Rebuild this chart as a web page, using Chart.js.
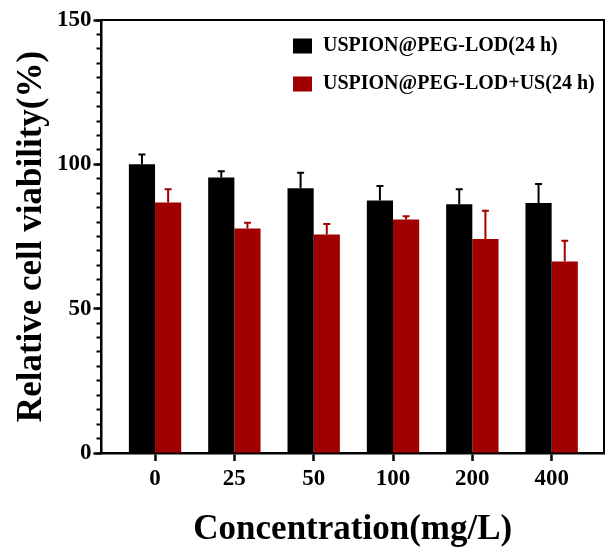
<!DOCTYPE html>
<html>
<head>
<meta charset="utf-8">
<script src="https://cdn.jsdelivr.net/npm/chart.js@4.4.1/dist/chart.umd.min.js"></script>
<style>
  html, body { margin: 0; padding: 0; background: #fff; }
  #wrap { width: 605px; height: 547px; }
</style>
</head>
<body>
<div id="wrap"><canvas id="viability" width="605" height="547"></canvas></div>
<script>
const concentrations = ['0', '25', '50', '100', '200', '400'];

const pegLod = [100, 95.4, 91.7, 87.5, 86.2, 86.6];
const pegLodErr = [3.4, 2.2, 5.4, 5.0, 5.2, 6.6];

const pegLodUs = [86.8, 77.8, 75.7, 80.9, 74.1, 66.3];
const pegLodUsErr = [4.6, 2.0, 3.6, 1.1, 9.8, 7.2];

const yTicks = [0, 50, 100, 150];

const seriesNames = ['USPION@PEG-LOD(24 h)', 'USPION@PEG-LOD+US(24 h)'];
const seriesColors = ['#000000', '#a10000'];
const seriesErrors = [pegLodErr, pegLodUsErr];

const serif = "'Liberation Serif', 'Times New Roman', serif";

function toPoints(values) {
    return values.map((v, i) => ({ x: i, y: v }));
}

// upper whiskers only, like the original figure
const errorBars = {
    id: 'errorBars',
    afterDatasetsDraw(chart) {
        const ctx = chart.ctx;
        const y = chart.scales.y;
        chart.data.datasets.forEach((ds, di) => {
            const meta = chart.getDatasetMeta(di);
            const errs = seriesErrors[di];
            meta.data.forEach((bar, i) => {
                const top = y.getPixelForValue(ds.data[i].y + errs[i]);
                ctx.save();
                ctx.strokeStyle = seriesColors[di];
                ctx.lineWidth = 2;
                ctx.beginPath();
                ctx.moveTo(bar.x, bar.y);
                ctx.lineTo(bar.x, top);
                ctx.moveTo(bar.x - 3.5, top);
                ctx.lineTo(bar.x + 3.5, top);
                ctx.stroke();
                ctx.restore();
            });
        });
    }
};

// frame top/right + legend inside the plot
const frameAndLegend = {
    id: 'frameAndLegend',
    afterDraw(chart) {
        const ctx = chart.ctx;
        const area = chart.chartArea;
        ctx.save();
        ctx.strokeStyle = '#000';
        ctx.lineWidth = 2;
        ctx.beginPath();
        ctx.moveTo(area.left, area.top);
        ctx.lineTo(area.right, area.top);
        ctx.lineTo(area.right, area.bottom);
        ctx.stroke();

        ctx.font = 'bold 20px ' + serif;
        ctx.textBaseline = 'middle';
        ctx.textAlign = 'left';
        chart.data.datasets.forEach((ds, i) => {
            const rowY = area.top + 26 + i * 38;
            ctx.fillStyle = ds.backgroundColor;
            ctx.fillRect(area.right - 311, rowY - 7.5, 19, 15);
            ctx.fillStyle = '#000';
            ctx.fillText(ds.label, area.right - 281, rowY);
        });
        ctx.restore();
    }
};

new Chart(document.getElementById('viability'), {
    type: 'bar',
    data: {
        datasets: [{
            label: seriesNames[0],
            data: toPoints(pegLod),
            backgroundColor: seriesColors[0],
            categoryPercentage: 0.66,
            barPercentage: 1
        }, {
            label: seriesNames[1],
            data: toPoints(pegLodUs),
            backgroundColor: seriesColors[1],
            categoryPercentage: 0.66,
            barPercentage: 1
        }]
    },
    options: {
        responsive: false,
        animation: false,
        layout: {
            padding: { top: 20, right: 1, left: 0, bottom: 0 }
        },
        scales: {
            x: {
                type: 'linear',
                offset: false,
                min: -0.675,
                max: 5.66,
                afterBuildTicks: (scale) => {
                    scale.ticks = concentrations.map((c, i) => ({ value: i }));
                },
                afterFit: (scale) => { scale.height = 94; },
                grid: { offset: false, drawOnChartArea: false, tickLength: 8, tickWidth: 2.5, tickColor: '#000' },
                border: { color: '#000', width: 2.5 },
                ticks: {
                    color: '#000',
                    padding: 4,
                    font: { family: serif, size: 23, weight: 'bold' },
                    callback: (v) => concentrations[v]
                },
                title: {
                    display: true,
                    text: 'Concentration(mg/L)',
                    color: '#000',
                    font: { family: serif, size: 35, weight: 'bold', lineHeight: 1 },
                    padding: { top: 0, bottom: 0 }
                }
            },
            y: {
                position: 'left',
                weight: 1,
                min: 0,
                max: 150,
                afterBuildTicks: (scale) => {
                    scale.ticks = yTicks.map(v => ({ value: v }));
                },
                afterFit: (scale) => { scale.width = 101.5; },
                grid: { drawOnChartArea: false, tickLength: 8, tickWidth: 2.5, tickColor: '#000' },
                border: { color: '#000', width: 2.5 },
                ticks: {
                    color: '#000',
                    padding: 2,
                    font: { family: serif, size: 23, weight: 'bold' }
                },
                title: {
                    display: true,
                    text: 'Relative cell viability(%)',
                    color: '#000',
                    font: { family: serif, size: 35, weight: 'bold', lineHeight: 1 },
                    padding: { top: 14, bottom: 0 }
                }
            },
            // minor ticks every 5
            yMinor: {
                position: 'left',
                weight: 0,
                min: 0,
                max: 150,
                afterFit: (scale) => { scale.width = 0; },
                ticks: { stepSize: 5, display: false },
                grid: { drawOnChartArea: false, tickLength: 5, tickWidth: 2, tickColor: '#000' },
                border: { display: false }
            }
        },
        plugins: {
            legend: { display: false },
            tooltip: { enabled: false }
        }
    },
    plugins: [errorBars, frameAndLegend]
});
</script>
</body>
</html>
